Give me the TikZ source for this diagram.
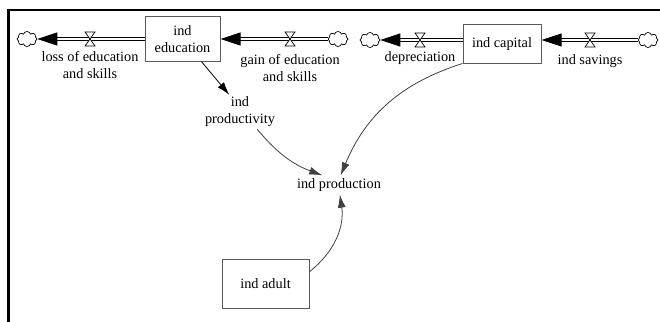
\documentclass[tikz,border=0pt]{standalone}
\usepackage{fontspec}
\setmainfont{Liberation Serif}
\usetikzlibrary{arrows.meta,shapes.symbols,positioning}

\begin{document}
\begin{tikzpicture}[x=1pt,y=-1pt,
  every node/.style={font=\rmfamily\fontsize{14.3}{17}\selectfont, align=center, inner sep=2pt},
  level/.style={draw=black!65, line width=1pt, minimum width=75pt, minimum height=44pt},
  source/.style={cloud, cloud puffs=8, aspect=1.3, draw, line width=0.7pt, minimum width=20pt, minimum height=15pt, inner sep=0pt},
  pipe/.style={draw, double, double distance=2.6pt, line width=1pt, -{Triangle[length=20pt,width=13pt]}},
  link/.style={draw=black!75, line width=0.8pt, -{Latex[length=13pt,width=8pt]}},
  valve/.pic={\draw[fill=white, line width=0.7pt] (-5,-7) -- (5,-7) -- (-5,7) -- (5,7) -- cycle;}
]
  \useasboundingbox (0,0) rectangle (660,321);
  \draw[line width=2.5pt] (8.5,10) rectangle (720,360);

  \node[level] (edu) at (182.5,39) {ind\\education};
  \node[level, minimum width=78pt, minimum height=38pt] (cap) at (502,44) {ind capital};
  \node[level, minimum width=87pt, minimum height=49pt] (adult) at (265.5,283.5) {ind adult};
  \node (indprod) at (240,112) {ind\\productivity};
  \node[inner sep=3pt] (indpr) at (339,185) {ind production};

  \node[source] (c1) at (27,39) {};
  \node[source] (c2) at (338,39) {};
  \node[source] (c3) at (370,40) {};
  \node[source] (c4) at (648,40) {};

  \coordinate (v1) at (90,39);
  \coordinate (v2) at (290,39);
  \coordinate (v3) at (420,40);
  \coordinate (v4) at (590,40);

  \path[pipe] (edu.west) -- (c1);
  \path[pipe] (c2) -- (edu.east);
  \path[pipe] (c3 -| cap.west) -- (c3);
  \path[pipe] (c4) -- (c4 -| cap.east);

  \foreach \v in {v1,v2,v3,v4}
    \pic at (\v) {valve};

  \node[below=10pt of v1] (lossl) {loss of education\\and skills};
  \node[below=13pt of v2] (gainl) {gain of education\\and skills};
  \node[below=9pt of v3] (depl) {depreciation};
  \node[below=12pt of v4] (savl) {ind savings};

  \draw[link, black] (edu.-50) -- (indprod.122);
  \draw[link] (indprod.-45) to[bend right=15] (indpr.150);
  \draw[link] (cap.south west) to[bend right=25] (indpr.80);
  \draw[link] (adult.15) to[bend right=30] (indpr.-85);
\end{tikzpicture}
\end{document}
